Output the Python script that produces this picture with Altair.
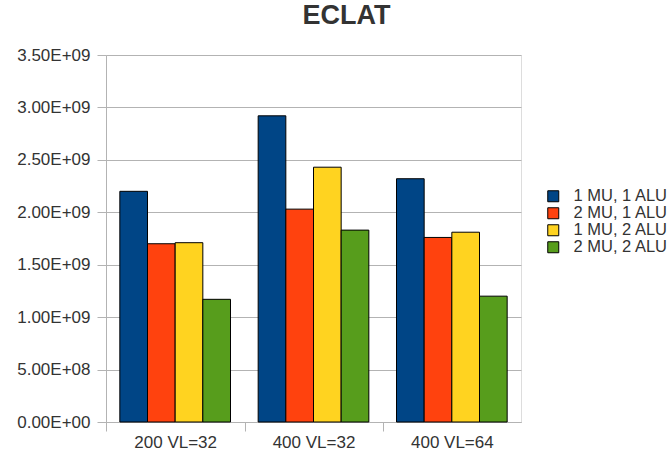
import altair as alt
import pandas as pd

categories = ["200 VL=32", "400 VL=32", "400 VL=64"]
series = ["1 MU, 1 ALU", "2 MU, 1 ALU", "1 MU, 2 ALU", "2 MU, 2 ALU"]
values = {
    "1 MU, 1 ALU": [2.20e9, 2.92e9, 2.32e9],
    "2 MU, 1 ALU": [1.70e9, 2.03e9, 1.76e9],
    "1 MU, 2 ALU": [1.71e9, 2.43e9, 1.81e9],
    "2 MU, 2 ALU": [1.17e9, 1.83e9, 1.20e9],
}
colors = ["#004586", "#ff420e", "#ffd320", "#579d1c"]
y_ticks = [0, 5e8, 1e9, 1.5e9, 2e9, 2.5e9, 3e9, 3.5e9]

rows = []
for s in series:
    for c, v in zip(categories, values[s]):
        rows.append({"category": c, "series": s, "value": v})
df = pd.DataFrame(rows)

FONT = "Liberation Sans"
GRID = "#b3b3b3"
TXT = "#333333"

chart = alt.Chart(df).mark_bar(stroke="#000000", strokeWidth=1).encode(
    x=alt.X("category:N", sort=categories, title=None,
            scale=alt.Scale(paddingInner=0.2, paddingOuter=0.1),
            axis=alt.Axis(labelAngle=0, tickOffset=-69, labelOffset=69,
                          tickSize=9, tickColor=GRID, domainColor=GRID,
                          labelFontSize=17, labelColor=TXT, labelFont=FONT,
                          labelPadding=3, grid=False)),
    xOffset=alt.XOffset("series:N", sort=series),
    y=alt.Y("value:Q", title=None,
            scale=alt.Scale(domain=[0, 3.5e9], nice=False),
            axis=alt.Axis(values=y_ticks,
                          labelExpr="replace(upper(format(datum.value, '.2e')), 'E+', 'E+0')",
                          tickSize=9, tickColor=GRID, domainColor=GRID,
                          gridColor=GRID, labelFontSize=17, labelColor=TXT,
                          labelFont=FONT, labelPadding=7)),
    color=alt.Color("series:N", sort=series,
                    scale=alt.Scale(domain=series, range=colors),
                    legend=alt.Legend(title=None, orient="none", legendX=439, legendY=133,
                                      symbolType="square", symbolSize=121,
                                      symbolStrokeColor="#000000", symbolStrokeWidth=1,
                                      labelFontSize=16.5, labelColor=TXT, labelFont=FONT,
                                      rowPadding=-1, labelOffset=12)),
).properties(
    width=415, height=367,
    title=alt.TitleParams("ECLAT", fontSize=27, fontWeight="bold", color=TXT,
                          font=FONT, anchor="middle", dx=33, offset=16),
    autosize=alt.AutoSizeParams(type="none"),
    padding={"left": 106, "top": 55, "right": 149, "bottom": 39},
).configure_view(stroke=GRID, strokeWidth=1).configure(background="white")

chart.save("out.html", embed_options={"renderer": "svg", "actions": False})
